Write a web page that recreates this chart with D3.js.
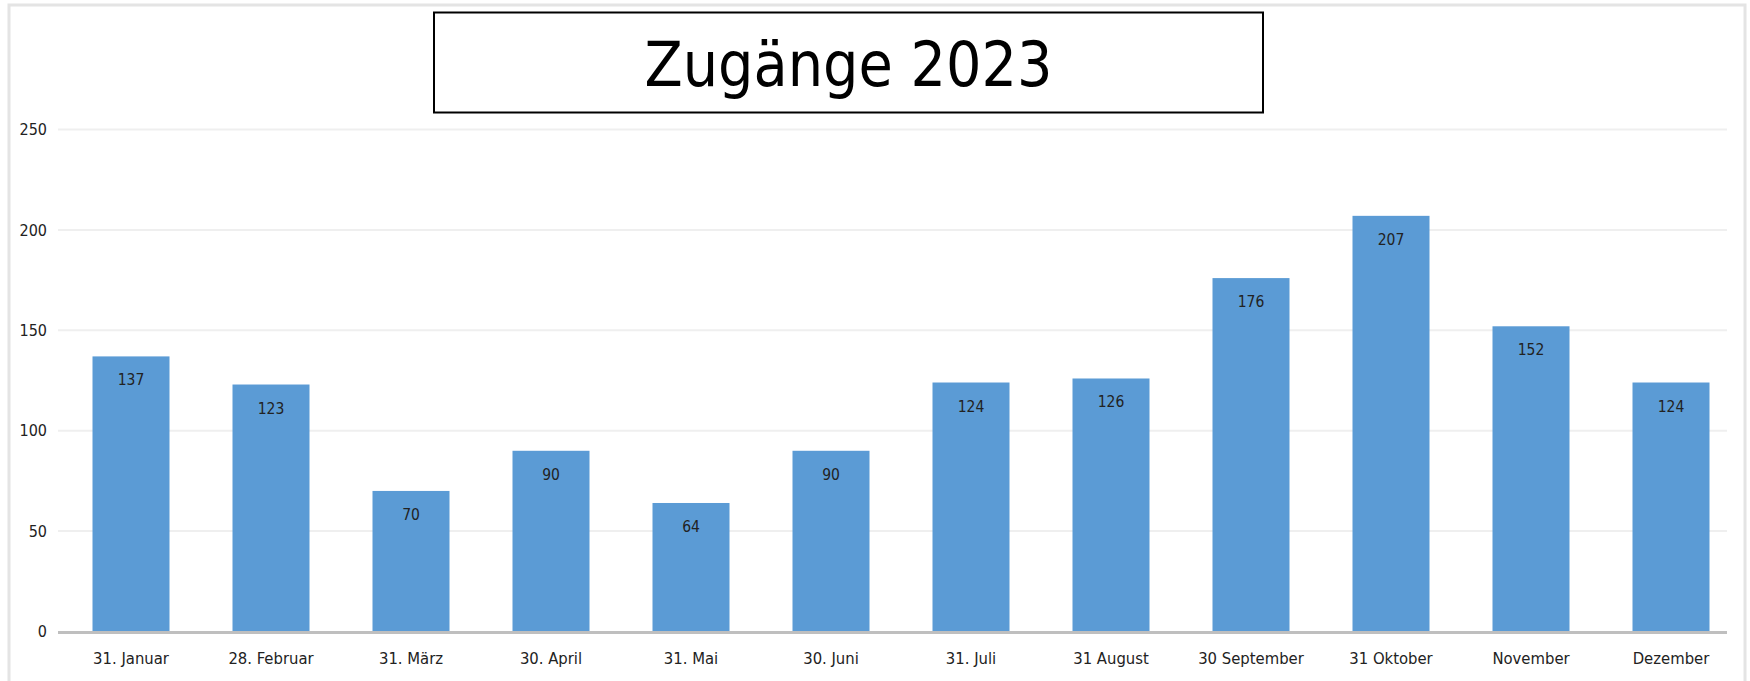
<!DOCTYPE html>
<html>
<head>
<meta charset="utf-8">
<script src="https://cdn.jsdelivr.net/npm/d3@7"></script>
<style>
  body { margin: 0; background: #fff; }
  svg text { font-family: "DejaVu Sans Condensed", "DejaVu Sans", sans-serif; }
</style>
</head>
<body>
<div class="chart-container"></div>
<script>
// data
const months = [
  "31. Januar", "28. Februar", "31. März", "30. April", "31. Mai", "30. Juni",
  "31. Juli", "31 August", "30 September", "31 Oktober", "November", "Dezember"
];
const values = [137, 123, 70, 90, 64, 90, 124, 126, 176, 207, 152, 124];
const yTicks = [0, 50, 100, 150, 200, 250];
const title = "Zugänge 2023";

// define canvas
const w = 1750;
const h = 681;

const svg = d3
  .select(".chart-container")
  .append("svg")
  .attr("width", w)
  .attr("height", h);

// light frame round the chart
svg
  .append("rect")
  .attr("x", 9)
  .attr("y", 5)
  .attr("width", 1736)
  .attr("height", 700)
  .attr("fill", "none")
  .attr("stroke", "#e4e4e4")
  .attr("stroke-width", 3);

// scales
const xScale = d3.scaleBand().domain(months).range([61, 1741]).paddingInner(0.45).paddingOuter(0.225);
const yScale = d3.scaleLinear().domain([0, 250]).range([631.5, 129.5]);

// gridlines
svg
  .append("g")
  .selectAll("line")
  .data(yTicks.filter((d) => d > 0))
  .enter()
  .append("line")
  .attr("x1", 58)
  .attr("x2", 1727)
  .attr("y1", (d) => yScale(d))
  .attr("y2", (d) => yScale(d))
  .attr("stroke", "#efefef")
  .attr("stroke-width", 2);

// y axis labels
const yAxis = d3.axisLeft(yScale).tickValues(yTicks).tickSize(0).tickPadding(0);
svg
  .append("g")
  .attr("transform", "translate(47,0)")
  .call(yAxis)
  .call((g) => g.select(".domain").remove())
  .selectAll("text")
  .attr("font-size", 16)
  .attr("fill", "#222");

// bars
svg
  .selectAll("rect.bar")
  .data(values)
  .enter()
  .append("rect")
  .attr("class", "bar")
  .attr("x", (d, i) => xScale(months[i]))
  .attr("y", (d) => yScale(d))
  .attr("width", xScale.bandwidth())
  .attr("height", (d) => yScale(0) - yScale(d))
  .attr("fill", "#5b9bd5");

// value labels
svg
  .selectAll("text.val")
  .data(values)
  .enter()
  .append("text")
  .attr("class", "val")
  .attr("x", (d, i) => xScale(months[i]) + xScale.bandwidth() / 2)
  .attr("y", (d) => yScale(d) + 29)
  .attr("text-anchor", "middle")
  .attr("font-size", 15.5)
  .attr("fill", "#222")
  .text((d) => d);

// x axis
const xAxis = d3.axisBottom(xScale).tickSize(0).tickPadding(21);
svg
  .append("g")
  .attr("transform", "translate(0," + yScale(0) + ")")
  .call(xAxis)
  .call((g) => g.select(".domain").remove())
  .selectAll("text")
  .attr("font-size", 16.5)
  .attr("fill", "#222");

svg
  .append("line")
  .attr("x1", 58)
  .attr("x2", 1727)
  .attr("y1", yScale(0) + 1)
  .attr("y2", yScale(0) + 1)
  .attr("stroke", "#bfbfbf")
  .attr("stroke-width", 3);

// title box
svg
  .append("rect")
  .attr("x", 434)
  .attr("y", 12.5)
  .attr("width", 829)
  .attr("height", 100)
  .attr("fill", "#fff")
  .attr("stroke", "#000")
  .attr("stroke-width", 2);

svg
  .append("text")
  .attr("x", 848.5)
  .attr("y", 86)
  .attr("text-anchor", "middle")
  .attr("font-size", 62)
  .attr("fill", "#000")
  .text(title);
</script>
</body>
</html>
